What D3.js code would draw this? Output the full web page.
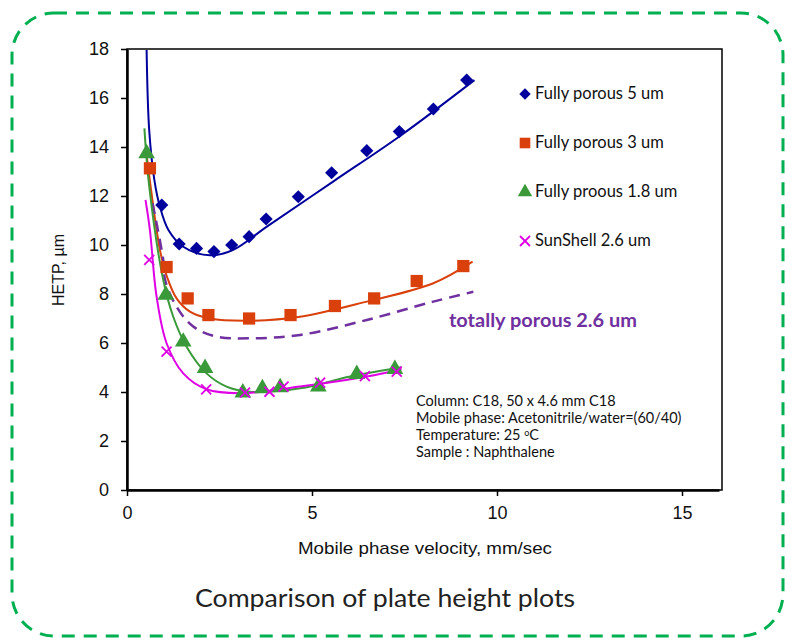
<!DOCTYPE html>
<html>
<head>
<meta charset="utf-8">
<script src="https://d3js.org/d3.v7.min.js"></script>
<style>
  body { margin: 0; background: #fff; }
</style>
</head>
<body>
<svg id="chart" width="795" height="642"></svg>
<script>
// measured points (velocity mm/sec, HETP um)
var p5Vel  = [0.94, 1.41, 1.88, 2.35, 2.83, 3.30, 3.76, 4.63, 5.53, 6.48, 7.36, 8.28, 9.18];
var p5H    = [11.63, 10.04, 9.86, 9.73, 10.0, 10.34, 11.06, 11.97, 12.95, 13.85, 14.63, 15.55, 16.73];
var p3Vel  = [0.62, 1.07, 1.64, 2.20, 3.30, 4.42, 5.62, 6.68, 7.83, 9.09];
var p3H    = [13.13, 9.10, 7.82, 7.14, 7.00, 7.14, 7.51, 7.82, 8.53, 9.14];
var p18Vel = [0.53, 1.05, 1.52, 2.11, 3.13, 3.66, 4.14, 5.17, 6.21, 7.24];
var p18H   = [13.74, 7.96, 6.05, 4.97, 3.97, 4.15, 4.19, 4.22, 4.73, 4.93];
var ssVel  = [0.60, 1.07, 2.14, 3.19, 3.85, 4.23, 5.22, 6.43, 7.29];
var ssH    = [9.39, 5.65, 4.11, 3.97, 4.01, 4.22, 4.38, 4.65, 4.83];

// fitted curves
var fit5Vel  = [0.53, 0.60, 0.74, 0.89, 1.12, 1.52, 2.24, 2.87, 3.78, 5.58, 7.38, 9.39];
var fit5H    = [17.96, 14.69, 12.65, 11.56, 10.61, 9.93, 9.58, 9.80, 10.75, 12.60, 14.45, 16.73];
var fit3Vel  = [0.51, 0.62, 0.89, 1.07, 1.34, 1.70, 2.24, 3.32, 4.68, 6.48, 8.28, 9.34];
var fit3H    = [13.95, 12.6, 9.8, 8.75, 7.82, 7.28, 7.00, 6.91, 7.07, 7.69, 8.44, 9.32];
var fit26Vel = [0.69, 0.98, 1.03, 1.34, 1.79, 2.42, 3.32, 4.68, 6.48, 8.28, 9.36];
var fit26H   = [11.7, 9.39, 8.57, 7.48, 6.67, 6.26, 6.19, 6.33, 6.94, 7.69, 8.09];
var fit18Vel = [0.47, 0.60, 0.98, 1.25, 1.61, 2.15, 2.69, 3.32, 4.68, 6.03, 7.42];
var fit18H   = [14.76, 12.4, 8.57, 7.07, 5.85, 4.76, 4.22, 4.01, 4.15, 4.63, 5.01];
var fitSsVel = [0.50, 0.62, 0.80, 1.07, 1.52, 2.15, 3.05, 4.68, 6.48, 7.42];
var fitSsH   = [11.84, 10.6, 7.89, 5.99, 4.76, 4.11, 3.95, 4.22, 4.63, 4.93];

var seriesNames = ["Fully porous 5 um", "Fully porous 3 um", "Fully proous 1.8 um", "SunShell 2.6 um"];
var xTicks = [0, 5, 10, 15];
var yTicks = [0, 2, 4, 6, 8, 10, 12, 14, 16, 18];
var noteLines = ["Column: C18, 50 x 4.6 mm C18", "Mobile phase: Acetonitrile/water=(60/40)", "Temperature: 25 ", "Sample : Naphthalene"];

var axisFont = "'Liberation Sans Narrow', 'Liberation Sans', Arial, sans-serif";
var bodyFont = "Lato, 'Open Sans', sans-serif";

var svg = d3.select("#chart");

// dashed rounded frame
svg.append("rect")
    .attr("x", 12).attr("y", 13).attr("width", 771).attr("height", 623)
    .attr("rx", 42).attr("ry", 42)
    .attr("fill", "none").attr("stroke", "#00B050")
    .attr("stroke-width", 3).attr("stroke-dasharray", "13,9");

var x = d3.scaleLinear().domain([0, 16]).range([127, 719]);
var y = d3.scaleLinear().domain([0, 18]).range([490, 49]);

// plot box
svg.append("rect")
    .attr("x", 127).attr("y", 49).attr("width", 595).attr("height", 441)
    .attr("fill", "none").attr("stroke", "#000").attr("stroke-width", 1.5);

var yAxis = svg.append("g").attr("transform", "translate(127,0)")
    .call(d3.axisLeft(y).tickValues(yTicks).tickSize(6).tickSizeOuter(0));
var xAxis = svg.append("g").attr("transform", "translate(0,490)")
    .call(d3.axisBottom(x).tickValues(xTicks).tickSize(6).tickSizeOuter(0));
[yAxis, xAxis].forEach(function (a) {
    a.select(".domain").attr("stroke-width", 2.5);
    a.selectAll(".tick line").attr("stroke-width", 1.5);
    a.selectAll(".tick text").attr("fill", "#111")
        .style("font-size", "18px").style("font-family", axisFont);
});
yAxis.selectAll(".tick text").attr("x", -18);
xAxis.selectAll(".tick text").attr("y", 16);

svg.append("text").attr("transform", "translate(64,270) rotate(-90)")
    .attr("text-anchor", "middle").attr("fill", "#111")
    .style("font-size", "16px").style("font-family", axisFont)
    .text("HETP, µm");
svg.append("text").attr("x", 425).attr("y", 554)
    .attr("text-anchor", "middle").attr("fill", "#111")
    .attr("textLength", 254).attr("lengthAdjust", "spacingAndGlyphs")
    .style("font-size", "17px").style("font-family", axisFont)
    .text("Mobile phase velocity, mm/sec");

var line = d3.line()
    .x(function (d) { return x(d[0]); })
    .y(function (d) { return y(d[1]); })
    .curve(d3.curveCatmullRom.alpha(0.5));

function pairs(a, b) { return a.map(function (v, i) { return [v, b[i]]; }); }

var fits = [
    { v: fit5Vel, h: fit5H, color: "#00009C", dash: null, w: 2 },
    { v: fit3Vel, h: fit3H, color: "#D9400C", dash: null, w: 2 },
    { v: fit26Vel, h: fit26H, color: "#7030A0", dash: "11,7", w: 2.5 },
    { v: fit18Vel, h: fit18H, color: "#3A9A3A", dash: null, w: 2 },
    { v: fitSsVel, h: fitSsH, color: "#E000E6", dash: null, w: 2 }
];
fits.forEach(function (f) {
    svg.append("path").datum(pairs(f.v, f.h))
        .attr("d", line).attr("fill", "none")
        .attr("stroke", f.color).attr("stroke-width", f.w)
        .attr("stroke-dasharray", f.dash);
});

var sets = [
    { v: p5Vel, h: p5H, color: "#00009C", sym: d3.symbolDiamond2, size: 110 },
    { v: p3Vel, h: p3H, color: "#D9400C", sym: d3.symbolSquare, size: 150 },
    { v: p18Vel, h: p18H, color: "#3A9A3A", sym: d3.symbolTriangle, size: 120 },
    { v: ssVel, h: ssH, color: "#E000E6", sym: null, size: 0 }
];

function drawMarker(g, s, cx, cy) {
    if (s.sym) {
        g.append("path").attr("transform", "translate(" + cx + "," + cy + ")")
            .attr("d", d3.symbol().type(s.sym).size(s.size)())
            .attr("fill", s.color);
    } else {
        var r = 5;
        g.append("path")
            .attr("d", "M" + (cx - r) + "," + (cy - r) + "L" + (cx + r) + "," + (cy + r) +
                       "M" + (cx - r) + "," + (cy + r) + "L" + (cx + r) + "," + (cy - r))
            .attr("stroke", s.color).attr("stroke-width", 1.8).attr("fill", "none");
    }
}

sets.forEach(function (s) {
    var g = svg.append("g");
    s.v.forEach(function (v, i) { drawMarker(g, s, x(v), y(s.h[i])); });
});

// legend
var legend = svg.append("g");
seriesNames.forEach(function (name, i) {
    var ly = 94 + i * 49;
    var s = sets[i];
    drawMarker(legend, { color: s.color, sym: s.sym, size: s.sym ? s.size * 0.75 : 0 }, 525, ly);
    legend.append("text").attr("x", 535).attr("y", ly + 5).attr("fill", "#111")
        .style("font-family", bodyFont).style("font-size", "16.5px")
        .text(name);
});

svg.append("text").attr("x", 449).attr("y", 327).attr("fill", "#7030A0")
    .attr("textLength", 188).attr("lengthAdjust", "spacingAndGlyphs")
    .style("font-family", bodyFont).style("font-weight", "bold").style("font-size", "18px")
    .text("totally porous 2.6 um");

var notes = svg.append("g");
noteLines.forEach(function (t, i) {
    var tx = notes.append("text").attr("x", 416).attr("y", 406 + i * 17).attr("fill", "#111")
        .style("font-family", bodyFont).style("font-size", "14.5px")
        .text(t);
    if (i === 2) {
        tx.append("tspan").style("font-size", "9px").attr("dy", -4).text("o");
        tx.append("tspan").attr("dy", 4).text("C");
    }
});

svg.append("text").attr("x", 385).attr("y", 607)
    .attr("text-anchor", "middle").attr("fill", "#222")
    .attr("textLength", 380).attr("lengthAdjust", "spacingAndGlyphs")
    .style("font-family", bodyFont).style("font-size", "25px")
    .text("Comparison of plate height plots");
</script>
</body>
</html>
